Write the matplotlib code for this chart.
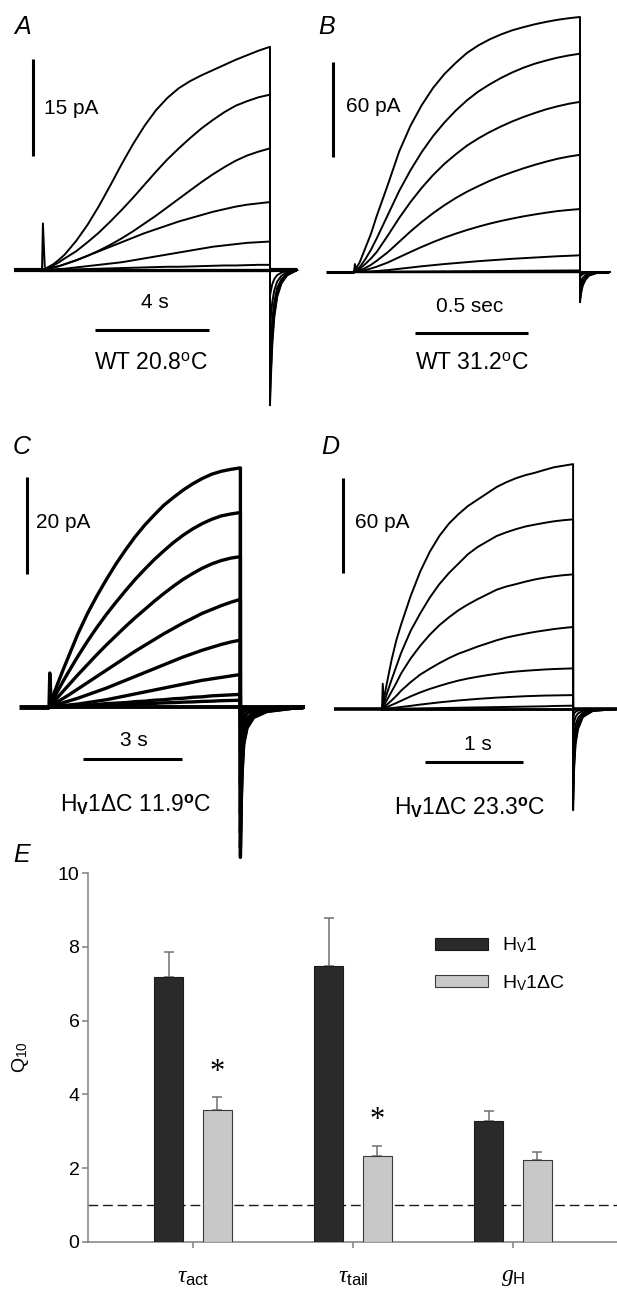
import numpy as np
import matplotlib
matplotlib.use("Agg")
import matplotlib.pyplot as plt

plt.rcParams['font.family'] = ['Liberation Sans', 'DejaVu Sans']
plt.rcParams['mathtext.fontset'] = 'custom'
plt.rcParams['mathtext.rm'] = 'Liberation Sans'
plt.rcParams['mathtext.it'] = 'Liberation Serif:italic'
plt.rcParams['mathtext.bf'] = 'Liberation Sans:bold'
plt.rcParams['mathtext.sf'] = 'Liberation Sans'

W, H = 617, 1295

# ---------------- current traces (pA), read at fractions of the test step
step_frac = [0, .025, .05, .075, .1, .15, .2, .25, .3, .35, .4, .45, .5,
             .55, .6, .65, .7, .75, .8, .85, .9, .95, 1]

# A: WT 20.8 C, 8 s step
a_step = 8.0
a_currents = [
    [0, .4, .9, 1.6, 2.4, 4.5, 7.0, 9.9, 13.1, 16.4, 19.5, 22.3, 24.7,
     26.6, 28.1, 29.2, 30.1, 30.9, 31.7, 32.5, 33.2, 33.9, 34.5],
    [0, .3, .7, 1.2, 1.8, 2.9, 4.3, 5.8, 7.5, 9.3, 11.2, 13.2, 15.2,
     17.1, 18.8, 20.4, 21.9, 23.2, 24.4, 25.4, 26.1, 26.7, 27.1],
    [0, .2, .4, .6, .9, 1.5, 2.2, 3.0, 3.9, 4.9, 6.0, 7.2, 8.4,
     9.7, 11.0, 12.3, 13.6, 14.8, 15.9, 16.9, 17.7, 18.3, 18.8],
    [0, .2, .4, .6, .9, 1.5, 2.2, 2.9, 3.6, 4.3, 5.0, 5.7, 6.3,
     6.9, 7.5, 8.0, 8.5, 9.0, 9.4, 9.8, 10.1, 10.3, 10.5],
    [0, .05, .1, .15, .2, .4, .6, .8, 1.0, 1.2, 1.5, 1.8, 2.1,
     2.4, 2.7, 3.0, 3.3, 3.6, 3.8, 4.0, 4.2, 4.3, 4.4],
    [0, 0, 0, .05, .05, .1, .15, .2, .25, .3, .35, .4, .45,
     .5, .5, .55, .6, .65, .7, .7, .75, .8, .8],
]
a_tail_peak = [-20.9, -19.5, -17.5, -14.0, -9.0, -4.0]
a_tail_t = [0, 0.03, 0.08, 0.15, 0.25, 0.4, 0.6, 0.95]
a_tail_shape = [1, 0.8, 0.55, 0.35, 0.2, 0.1, 0.04, 0]

# B: WT 31.2 C, 1 s step
b_step = 1.0
b_currents = [
    [0, 6, 15, 24, 35, 55, 75.8, 92, 105, 115.8, 124.5, 131.5, 137.8,
     142.5, 146.3, 149.4, 152, 154, 155.8, 157.3, 158.6, 159.6, 160.4],
    [0, 3, 8, 14, 21, 36, 51, 64, 75.5, 85.5, 94, 101.5, 108,
     113.5, 118, 122, 125.5, 128.5, 131, 133, 134.8, 136.2, 137.3],
    [0, 2, 5, 8.5, 12.5, 23, 34, 44, 53, 61, 68, 74, 79.5,
     84, 88, 91.5, 94.7, 97.5, 100, 102.3, 104.2, 105.8, 107],
    [0, 1, 2.5, 4.5, 7, 12.5, 19, 25.5, 31.5, 37, 42, 46.5, 50.5,
     54, 57.3, 60.2, 62.8, 65.2, 67.4, 69.4, 71.2, 72.6, 73.7],
    [0, .5, 1.2, 2.2, 3.3, 6, 9.3, 12.6, 15.8, 18.8, 21.6, 24.1, 26.4,
     28.5, 30.4, 32.1, 33.6, 35, 36.2, 37.3, 38.3, 39, 39.6],
    [0, .1, .2, .4, .6, 1.2, 2, 2.8, 3.6, 4.3, 5, 5.6, 6.2,
     6.8, 7.3, 7.8, 8.3, 8.7, 9.1, 9.5, 9.9, 10.2, 10.5],
    [0, 0, 0, .05, .1, .15, .2, .25, .3, .35, .4, .45, .5,
     .55, .6, .65, .7, .75, .8, .85, .9, .95, 1],
]
b_tail_peak = [-19, -17, -15, -12, -8, -3, -1]
b_tail_t = [0, 0.005, 0.012, 0.025, 0.04, 0.07, 0.13]
b_tail_shape = [1, 0.7, 0.45, 0.25, 0.12, 0.04, 0]

# C: Hv1dC 11.9 C, 5.8 s step
c_step = 5.8
c_currents = [
    [0, 2.7, 5.3, 7.8, 10.2, 15, 19.2, 22.9, 26.3, 29.5, 32.4, 35.1, 37.5,
     39.6, 41.6, 43.2, 44.7, 46, 47.1, 48, 48.6, 49.0, 49.3],
    [0, 1.8, 3.6, 5.4, 7.1, 10.4, 13.5, 16.4, 19.1, 21.6, 24, 26.3, 28.4,
     30.4, 32.2, 33.9, 35.4, 36.7, 37.8, 38.7, 39.4, 39.8, 40.1],
    [0, 1.1, 2.2, 3.3, 4.4, 6.6, 8.7, 10.8, 12.8, 14.7, 16.6, 18.4, 20.1,
     21.8, 23.4, 24.9, 26.3, 27.5, 28.6, 29.5, 30.2, 30.7, 31],
    [0, .6, 1.2, 1.8, 2.4, 3.7, 5.0, 6.3, 7.6, 8.9, 10.2, 11.5, 12.7,
     13.9, 15.1, 16.2, 17.3, 18.3, 19.3, 20.1, 20.9, 21.6, 22.2],
    [0, .3, .6, .9, 1.2, 1.8, 2.5, 3.2, 3.9, 4.7, 5.5, 6.3, 7.1,
     7.9, 8.7, 9.5, 10.3, 11.0, 11.7, 12.3, 12.9, 13.4, 13.8],
    [0, .1, .2, .3, .4, .6, .9, 1.2, 1.5, 1.9, 2.3, 2.7, 3.1,
     3.5, 3.9, 4.3, 4.7, 5.1, 5.5, 5.8, 6.1, 6.4, 6.7],
    [0, 0, .1, .1, .2, .3, .4, .5, .7, .8, .9, 1.1, 1.2,
     1.4, 1.5, 1.7, 1.8, 2.0, 2.1, 2.3, 2.4, 2.5, 2.6],
    [0, 0, 0, .05, .1, .15, .2, .3, .35, .45, .5, .6, .7,
     .75, .85, .9, 1.0, 1.05, 1.15, 1.2, 1.3, 1.35, 1.4],
]
c_tail_peak = [-31, -29, -26, -22, -16, -9, -4, -2]
c_tail_t = [0, 0.02, 0.05, 0.1, 0.2, 0.4, 0.8, 1.9]
c_tail_shape = [1, 0.7, 0.45, 0.25, 0.14, 0.07, 0.03, 0]

# D: Hv1dC 23.3 C, 1.95 s step
d_step = 1.95
d_currents = [
    [0, 16, 31, 43.5, 53.5, 71.5, 87, 99.5, 109.5, 117.3, 123.3, 128.5, 132.5,
     136.5, 140.5, 143.5, 146, 148, 149.5, 151.3, 153, 154, 155],
    [0, 9.5, 18.5, 27, 35.5, 49.5, 60.5, 70.5, 79, 86, 92, 98, 102.5,
     106, 109.5, 111.8, 113.8, 115.5, 116.7, 117.8, 118.8, 119.5, 120],
    [0, 5.5, 11, 16.5, 22.5, 32, 40, 47, 53, 58, 62.5, 66.2, 69.5,
     72.5, 75.5, 77.5, 79, 80.6, 82, 83.1, 84, 84.7, 85.2],
    [0, 2.7, 5.4, 8.3, 11.6, 17, 21.8, 25.5, 29, 32.2, 35, 37.2, 39.5,
     41.5, 43.5, 45.2, 46.5, 47.7, 48.8, 49.7, 50.6, 51.3, 51.9],
    [0, 1.2, 2.5, 3.8, 5.2, 8, 10.5, 12.7, 14.6, 16.4, 18, 19.3, 20.4,
     21.4, 22.3, 23.1, 23.7, 24.2, 24.6, 25, 25.3, 25.5, 25.7],
    [0, .3, .6, .9, 1.3, 2, 2.8, 3.5, 4.2, 4.8, 5.4, 5.9, 6.4,
     6.8, 7.2, 7.5, 7.8, 8.1, 8.3, 8.5, 8.6, 8.7, 8.8],
    [0, .1, .1, .2, .2, .3, .4, .5, .6, .7, .8, .9, 1.0,
     1.1, 1.2, 1.3, 1.4, 1.5, 1.6, 1.7, 1.9, 2.0, 2.1],
]
d_tail_peak = [-64, -58, -50, -40, -28, -14, -5]
d_tail_t = [0, 0.01, 0.025, 0.05, 0.1, 0.2, 0.45]
d_tail_shape = [1, 0.6, 0.35, 0.2, 0.08, 0.02, 0]

# ---------------- panel E, Q10 values
categories = [r'$\tau_{\mathrm{act}}$', r'$\tau_{\mathrm{tail}}$', r'$g_{\mathrm{H}}$']
q10_wt = [7.17, 7.47, 3.27]
q10_wt_err = [0.70, 1.31, 0.27]
q10_dc = [3.58, 2.34, 2.22]
q10_dc_err = [0.35, 0.27, 0.22]
significant = [True, True, False]


fig = plt.figure(figsize=(W / 100, H / 100), dpi=100)


def ftext(x, y, s, **kw):
    # place text by pixel position of the reference
    fig.text(x / W, 1 - y / H, s, **kw)


def trace_axes(box, x0, px_s, y0, px_pA):
    L, T, R, B = box
    ax = fig.add_axes([L / W, 1 - B / H, (R - L) / W, (B - T) / H])
    ax.set_xlim((L - x0) / px_s, (R - x0) / px_s)
    ax.set_ylim((y0 - B) / px_pA, (y0 - T) / px_pA)
    ax.axis('off')
    return ax


def draw_traces(ax, dur, currents, tail_peak, tail_t, tail_shape, pre, post,
                spike, lw, base_lw):
    t_step = [f * dur for f in step_frac]
    for cur, peak in zip(currents, tail_peak):
        t = t_step + [dur + tt for tt in tail_t]
        i = cur + [peak * s for s in tail_shape]
        ax.plot(t, i, color='black', lw=lw, solid_joinstyle='round')
    # holding level before and after the step
    ax.plot([-pre, 0], [0, 0], color='black', lw=base_lw, solid_capstyle='butt')
    ax.plot([dur, dur + post], [0, 0], color='black', lw=base_lw, solid_capstyle='butt')
    ax.plot([0, dur], [0, 0], color='black', lw=base_lw * 0.8)
    # capacity transient at step onset
    ax.plot([0, 0.004 * dur, 0.012 * dur], [0, spike, 0.5], color='black', lw=lw)


def scale_bars(ax, vx, vy, vlen, hx, hy, hlen):
    ax.plot([vx, vx], [vy, vy + vlen], color='black', lw=2.2, solid_capstyle='butt')
    ax.plot([hx, hx + hlen], [hy, hy], color='black', lw=2.2, solid_capstyle='butt')


lab_fs = 15
cond_fs = 16.5
let_fs = 18

# ---- A
axA = trace_axes((0, 0, 308, 430), 42, 28.5, 270, 6.47)
draw_traces(axA, a_step, a_currents, a_tail_peak, a_tail_t, a_tail_shape,
            1.0, 0.95, 7.2, 1.4, 3.0)
scale_bars(axA, -0.32, 17.6, 15, 1.86, -9.3, 4)
ftext(44, 108, '15 pA', fontsize=lab_fs, va='center')
ftext(155, 303, '4 s', fontsize=lab_fs, ha='center', va='center')
ftext(151, 362, r'WT 20.8$^{\mathrm{o}}$C', fontsize=cond_fs, ha='center', va='center')
ftext(23, 27, 'A', fontsize=let_fs, style='italic', ha='center', va='center')

# ---- B
axB = trace_axes((308, 0, 617, 430), 354, 226, 272, 1.59)
draw_traces(axB, b_step, b_currents, b_tail_peak, b_tail_t, b_tail_shape,
            0.124, 0.13, 5, 1.4, 2.2)
scale_bars(axB, -0.093, 72.3, 60, 0.27, -38.4, 0.5)
ftext(346, 107, '60 pA', fontsize=lab_fs, va='center')
ftext(470, 306, '0.5 sec', fontsize=lab_fs, ha='center', va='center')
ftext(472, 362, r'WT 31.2$^{\mathrm{o}}$C', fontsize=cond_fs, ha='center', va='center')
ftext(327, 27, 'B', fontsize=let_fs, style='italic', ha='center', va='center')

# ---- C
axC = trace_axes((0, 430, 308, 870), 49, 33, 707, 4.85)
draw_traces(axC, c_step, c_currents, c_tail_peak, c_tail_t, c_tail_shape,
            0.9, 1.9, 7, 2.4, 3.5)
scale_bars(axC, -0.667, 27.4, 20, 1.03, -10.7, 3)
ftext(36, 522, '20 pA', fontsize=lab_fs, va='center')
ftext(134, 740, '3 s', fontsize=lab_fs, ha='center', va='center')
ftext(136, 805, r'H$_{\mathbf{V}}$1ΔC 11.9$^{\mathbf{o}}$C', fontsize=cond_fs,
      ha='center', va='center')
ftext(22, 447, 'C', fontsize=let_fs, style='italic', ha='center', va='center')

# ---- D
axD = trace_axes((308, 430, 617, 870), 382, 98, 709, 1.58)
draw_traces(axD, d_step, d_currents, d_tail_peak, d_tail_t, d_tail_shape,
            0.49, 0.45, 16, 1.4, 2.6)
scale_bars(axD, -0.398, 86, 60, 0.44, -33.5, 1)
ftext(355, 523, '60 pA', fontsize=lab_fs, va='center')
ftext(478, 745, '1 s', fontsize=lab_fs, ha='center', va='center')
ftext(470, 808, r'H$_{\mathbf{V}}$1ΔC 23.3$^{\mathbf{o}}$C', fontsize=cond_fs,
      ha='center', va='center')
ftext(330, 447, 'D', fontsize=let_fs, style='italic', ha='center', va='center')

# ---- E
L, T, R, B = 88.5, 873, 617, 1242
axE = fig.add_axes([L / W, 1 - B / H, (R - L) / W, (B - T) / H])
x = np.arange(len(categories))
bw = 0.181
off = 0.151
axE.bar(x - off, q10_wt, bw, color='#2a2a2a', edgecolor='#1a1a1a', lw=0.8,
        label=r'H$_{\mathrm{V}}$1', zorder=3)
axE.bar(x + off, q10_dc, bw, color='#c8c8c8', edgecolor='#3a3a3a', lw=0.8,
        label=r'H$_{\mathrm{V}}$1ΔC', zorder=3)
axE.errorbar(x - off, q10_wt, yerr=[np.zeros(3), q10_wt_err], fmt='none',
             ecolor='#707070', elinewidth=1.1, capsize=3.3, capthick=1.1, zorder=2)
axE.errorbar(x + off, q10_dc, yerr=[np.zeros(3), q10_dc_err], fmt='none',
             ecolor='#707070', elinewidth=1.1, capsize=3.3, capthick=1.1, zorder=2)
for xi, v, e, s in zip(x, q10_dc, q10_dc_err, significant):
    if s:
        axE.text(xi + off, v + e + 0.67, '*', fontsize=22, ha='center', va='center',
                 family='Liberation Serif')
axE.axhline(1, color='#1a1a1a', lw=1.0, dashes=(7, 3.5), zorder=1)
axE.set_xlim(-0.653, 2.65)
axE.set_ylim(0, 10)
axE.set_yticks([0, 2, 4, 6, 8, 10])
axE.set_xticks(x)
axE.set_xticklabels(categories, fontsize=17)
for sp in ['top', 'right']:
    axE.spines[sp].set_visible(False)
for sp in ['left', 'bottom']:
    axE.spines[sp].set_color('#808080')
    axE.spines[sp].set_linewidth(1.1)
axE.tick_params(axis='y', direction='out', length=4.5, width=1.1, color='#808080',
                labelsize=14, pad=2)
axE.tick_params(axis='x', direction='out', length=4, width=1.1, color='#808080',
                pad=13)
axE.set_ylabel(r'Q$_{10}$', fontsize=14, labelpad=19)
axE.legend(loc='upper left', bbox_to_anchor=(0.6556, 0.83), frameon=False,
           fontsize=14, handlelength=2.75, handleheight=0.62, handletextpad=0.7,
           labelspacing=0.9, borderpad=0, borderaxespad=0)
ftext(22, 855, 'E', fontsize=let_fs, style='italic', ha='center', va='center')

fig.savefig('out.png', dpi=100)
